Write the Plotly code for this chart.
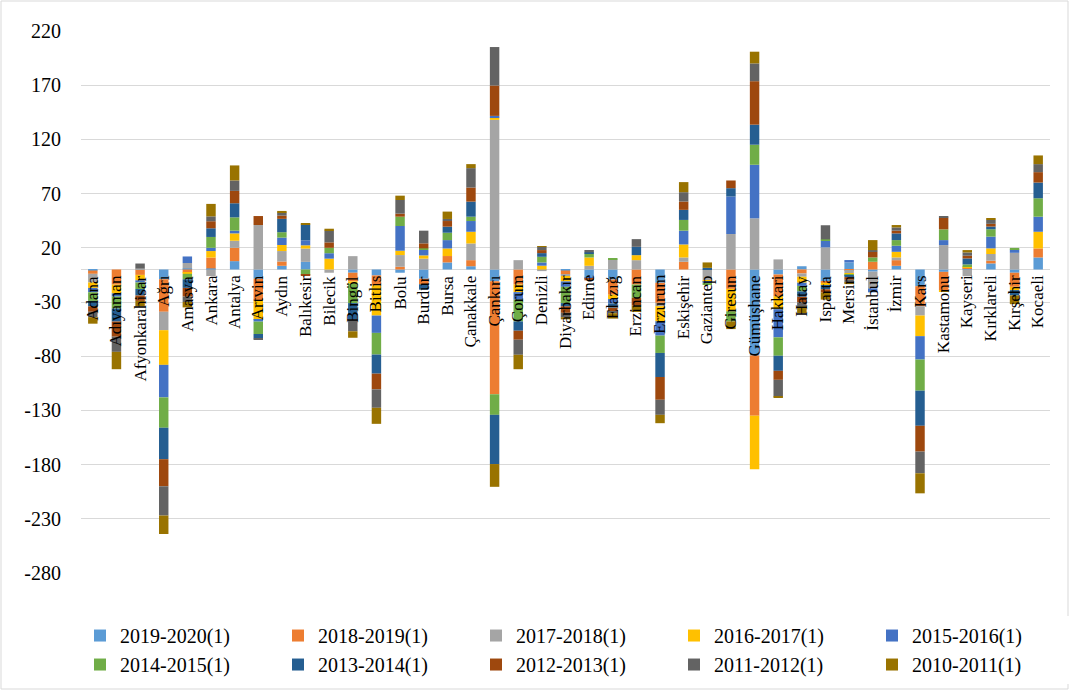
import plotly.graph_objects as go

provinces = ['Adana', 'Adıyaman', 'Afyonkarahisar', 'Ağrı', 'Amasya', 'Ankara', 'Antalya',
             'Artvin', 'Aydın', 'Balıkesir', 'Bilecik', 'Bingöl', 'Bitlis', 'Bolu', 'Burdur',
             'Bursa', 'Çanakkale', 'Çankırı', 'Çorum', 'Denizli', 'Diyarbakır', 'Edirne',
             'Elazığ', 'Erzincan', 'Erzurum', 'Eskişehir', 'Gaziantep', 'Giresun', 'Gümüşhane',
             'Hakkari', 'Hatay', 'Isparta', 'Mersin', 'İstanbul', 'İzmir', 'Kars', 'Kastamonu',
             'Kayseri', 'Kırklareli', 'Kırşehir', 'Kocaeli']

s2019_2020 = [-1, 0, 0, -9, 1, 1, 7.7, -8.6, 3.4, 7, 0, -3, -5.5, -3, -8.6, 6.5, 3, -10.8, 0, 0,
              -1, -7, -9.3, 0, -12.3, 0, 0, 0, -79.3, -4.6, 3, -10.8, 6.5, -2, 3.4, -15.4, -2.2,
              0.5, 5.6, -3, 11.1]
s2018_2019 = [-3, -14, -5, -30, -3, 10, 12.3, -20, 4, 0, 0, -8, -9, 2.5, -5, 5.9, 5.6, -104.3,
              -13.9, 0, -3.5, -0.5, -14, -13.9, -18.5, 7.1, 0, -17.9, -55.6, -20, -3.7, -1.5,
              -0.5, 7.1, 5.2, -18.5, -17, 1.5, 2.5, -13, 8.3]
s2017_2018 = [-8, 0, 1, -17, 5, -6, 6.5, 41, 9.6, 12.3, -3, 12.3, 0, 10.8, 10, 0, 15.4, 138, 8.6,
              -1.5, -1.5, 3.4, 9.3, 8.6, -3, 4, -10, 32.7, 47.2, 9.3, -3, 20.4, -3, -15.4, 2.5,
              -8.6, 22.5, -6.2, 6.2, 15.4, 0]
s2016_2017 = [-5, -8, -5, -32, -1, 6, 6.8, -18, 5.6, 3, 10, -2, -28, 4, 3, 7, 10.8, 2.2, -7, 3.5,
              -5, 7.7, -4, 4.6, -13.9, 12, -1, -20.7, -49.4, -12, -5.5, -2, -1, 0, 5.2, -19,
              -1.5, 1.2, 5.2, -3, 15.4]
s2015_2016 = [-4, -3, -2, -30, 6, 3, 2.5, -1.5, 6.8, 4.6, 5, 0, -16, 22.8, 5, 7.7, 9.9, 1.5, -7,
              3, -5, -1, -4, 0, -13.3, 12.7, -1.5, 34.6, 49.4, -26, -3, 6.2, 2.2, -3.7, 5.6,
              -21.6, 4.6, 0, 10.8, 3, 13.9]
s2014_2015 = [-8, -11, -6, -28, -5, 10, 12.3, -11.4, 5, -5, 5, -18, -20, 8.6, 1.5, 6.8, 4, -19,
              -20, 5.2, -15, 3.7, 1, -12.3, -16, 9.9, -1.5, -9.3, 18.5, -17, -5, 1.2, -1.5, 4,
              5.2, -28.7, 9.9, 1.5, 6.8, 1.5, 17]
s2013_2014 = [-5, -12, -6, -29, -8, 8, 13, -4, 12.3, 14.5, 0, -15, -17.6, 0, -5, 5.6, 13.9,
              -45.4, -8.6, 3.4, -3, 1, -4, 7.7, -22.2, 9.3, 1.5, 7.7, 18.5, -13.9, -5, -4, -1, 0,
              6.2, -32.4, 0, 5.5, 2.5, -5, 14.5]
s2012_2013 = [-5, -14, -5, -25, -8, 6.5, 11.4, 8.3, 3, -1, 5, 0, -14.5, 2.8, 4.6, 5.2, 13, 28,
              -8.3, 2.8, -6, -1.5, -3, -7, -21, 7.7, 0, 7.1, 40.1, -8.3, -5, -3, -2.5, 5.2, 2.5,
              -23.8, 10.8, 2.5, 2.5, 0, 9.6]
s2011_2012 = [-5, -14, 4.5, -27, -5, 4.5, 9.6, -1.5, 2.8, 0, 10.8, -11, -17, 12.6, 11.7, 1.9,
              17.9, 35.5, -13.9, 3, -4, 2.2, -2, 7.1, -13.9, 8.6, 0, 0, 16.4, -15.4, -4, 13,
              -2.5, 1.5, 3, -20, 1.5, 3, 3.7, 0, 7.4]
s2010_2011 = [-6, -16, -5, -17, -5, 11.5, 13.9, 0, 1.5, 0.6, 1.8, -6, -14.8, 4, 0, 6.8, 3.7, -21,
              -13.3, 0.5, -2, 0, -5, -6, -7.7, 9.3, 5, -7.1, 10.8, -1.2, -6, -6.5, -1.5, 9.3,
              2.2, -18.5, 0, 2.2, 0.9, -8, 8]

series_names = ['2019-2020(1)', '2018-2019(1)', '2017-2018(1)', '2016-2017(1)', '2015-2016(1)',
                '2014-2015(1)', '2013-2014(1)', '2012-2013(1)', '2011-2012(1)', '2010-2011(1)']
series_values = [s2019_2020, s2018_2019, s2017_2018, s2016_2017, s2015_2016,
                 s2014_2015, s2013_2014, s2012_2013, s2011_2012, s2010_2011]
colors = ['#5B9BD5', '#ED7D31', '#A5A5A5', '#FFC000', '#4472C4',
          '#70AD47', '#255E91', '#9E480E', '#636363', '#997300']

y_ticks = [220, 170, 120, 70, 20, -30, -80, -130, -180, -230, -280]
y_tick_text = [str(v) for v in y_ticks]

FONT = 'Liberation Serif, Times New Roman, serif'

# Layout geometry (pixels)
W, H = 1070, 691
ML, MR, MT, MB = 10, 10, 31, 118
PLOT_L, PLOT_R = 81, 1050
GS_W = W - ML - MR
GS_H = H - MT - MB

fig = go.Figure()
for name, vals, col in zip(series_names, series_values, colors):
    fig.add_trace(go.Bar(x=provinces, y=vals, name=name, marker_color=col,
                         marker_line_width=0))

# Category names sit on the zero line, rotated, overlapping the bars
for p in provinces:
    fig.add_annotation(x=p, y=0, xref='x', yref='y', text=p, showarrow=False,
                       textangle=-90, xanchor='center', yanchor='top', yshift=-4,
                       font=dict(family=FONT, size=17, color='#000000'))

fig.update_layout(
    width=W, height=H,
    margin=dict(l=ML, r=MR, t=MT, b=MB),
    barmode='relative', bargap=0.6,
    plot_bgcolor='white', paper_bgcolor='white',
    font=dict(family=FONT, size=20, color='#000000'),
    xaxis=dict(domain=[(PLOT_L - ML) / GS_W, (PLOT_R - ML) / GS_W],
               showticklabels=False, showgrid=False, zeroline=False, showline=False,
               ticks=''),
    yaxis=dict(range=[-280, 220], tickvals=y_ticks, ticktext=y_tick_text,
               showgrid=True, gridcolor='#D9D9D9', gridwidth=1,
               zeroline=True, zerolinecolor='#D9D9D9', zerolinewidth=1,
               showline=False, ticks='', ticklabelstandoff=19,
               tickfont=dict(family=FONT, size=20, color='#000000')),
    legend=dict(orientation='h', xref='paper', yref='container',
                x=(89 - ML) / GS_W, xanchor='left', y=0.1085, yanchor='top',
                entrywidth=153, entrywidthmode='pixels', traceorder='normal',
                font=dict(family=FONT, size=20, color='#000000'),
                itemwidth=30, tracegroupgap=0),
    shapes=[dict(type='rect', xref='paper', yref='paper',
                 x0=(1 - ML) / GS_W, x1=(1068 - ML) / GS_W,
                 y0=-(689 - (H - MB)) / GS_H, y1=((H - MB) - 1) / GS_H,
                 line=dict(color='#D9D9D9', width=1), fillcolor='rgba(0,0,0,0)',
                 layer='below')],
)

fig.write_html('out.html')
